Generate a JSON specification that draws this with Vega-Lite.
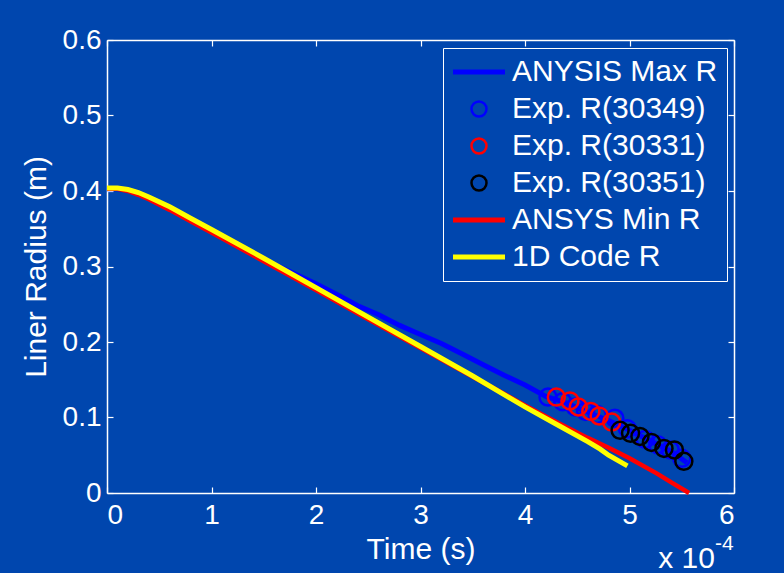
{
  "$schema": "https://vega.github.io/schema/vega-lite/v6.json",
  "width": 627,
  "height": 453,
  "autosize": "none",
  "padding": {"left": 107, "top": 40, "right": 50, "bottom": 80},
  "background": "#0046ae",
  "config": {
    "view": {"stroke": null},
    "font": "Liberation Sans",
    "axis": {
      "grid": false,
      "domainColor": "white",
      "domainWidth": 1.5,
      "tickColor": "white",
      "tickWidth": 1.2,
      "tickSize": -6,
      "labelColor": "white",
      "labelFont": "Liberation Sans",
      "labelFontSize": 28,
      "titleColor": "white",
      "titleFont": "Liberation Sans",
      "titleFontSize": 30,
      "titleFontWeight": "normal"
    }
  },
  "datasets": {
    "lines": [
      {"series": "ANYSIS Max R", "t": 0, "r": 0.403},
      {"series": "ANYSIS Max R", "t": 0.1, "r": 0.403},
      {"series": "ANYSIS Max R", "t": 0.2, "r": 0.401},
      {"series": "ANYSIS Max R", "t": 0.3, "r": 0.397},
      {"series": "ANYSIS Max R", "t": 0.4, "r": 0.391},
      {"series": "ANYSIS Max R", "t": 0.6, "r": 0.378},
      {"series": "ANYSIS Max R", "t": 0.8, "r": 0.363},
      {"series": "ANYSIS Max R", "t": 1.0, "r": 0.348},
      {"series": "ANYSIS Max R", "t": 1.2, "r": 0.333},
      {"series": "ANYSIS Max R", "t": 1.4, "r": 0.318},
      {"series": "ANYSIS Max R", "t": 1.6, "r": 0.303},
      {"series": "ANYSIS Max R", "t": 1.8, "r": 0.290},
      {"series": "ANYSIS Max R", "t": 2.0, "r": 0.277},
      {"series": "ANYSIS Max R", "t": 2.2, "r": 0.263},
      {"series": "ANYSIS Max R", "t": 2.4, "r": 0.248},
      {"series": "ANYSIS Max R", "t": 2.6, "r": 0.236},
      {"series": "ANYSIS Max R", "t": 2.8, "r": 0.222},
      {"series": "ANYSIS Max R", "t": 3.0, "r": 0.210},
      {"series": "ANYSIS Max R", "t": 3.2, "r": 0.198},
      {"series": "ANYSIS Max R", "t": 3.4, "r": 0.184},
      {"series": "ANYSIS Max R", "t": 3.6, "r": 0.170},
      {"series": "ANYSIS Max R", "t": 3.8, "r": 0.156},
      {"series": "ANYSIS Max R", "t": 4.0, "r": 0.143},
      {"series": "ANYSIS Max R", "t": 4.2, "r": 0.128},
      {"series": "ANYSIS Max R", "t": 4.4, "r": 0.119},
      {"series": "ANYSIS Max R", "t": 4.6, "r": 0.107},
      {"series": "ANYSIS Max R", "t": 4.8, "r": 0.096},
      {"series": "ANYSIS Max R", "t": 5.0, "r": 0.083},
      {"series": "ANYSIS Max R", "t": 5.2, "r": 0.069},
      {"series": "ANYSIS Max R", "t": 5.4, "r": 0.055},
      {"series": "ANYSIS Max R", "t": 5.55, "r": 0.040},
      {"series": "ANSYS Min R", "t": 0, "r": 0.403},
      {"series": "ANSYS Min R", "t": 0.1, "r": 0.403},
      {"series": "ANSYS Min R", "t": 0.2, "r": 0.400},
      {"series": "ANSYS Min R", "t": 0.3, "r": 0.395},
      {"series": "ANSYS Min R", "t": 0.4, "r": 0.389},
      {"series": "ANSYS Min R", "t": 0.6, "r": 0.375},
      {"series": "ANSYS Min R", "t": 0.8, "r": 0.360},
      {"series": "ANSYS Min R", "t": 1.0, "r": 0.345},
      {"series": "ANSYS Min R", "t": 1.5, "r": 0.307},
      {"series": "ANSYS Min R", "t": 2.0, "r": 0.269},
      {"series": "ANSYS Min R", "t": 2.5, "r": 0.230},
      {"series": "ANSYS Min R", "t": 3.0, "r": 0.192},
      {"series": "ANSYS Min R", "t": 3.5, "r": 0.154},
      {"series": "ANSYS Min R", "t": 4.0, "r": 0.116},
      {"series": "ANSYS Min R", "t": 4.3, "r": 0.094},
      {"series": "ANSYS Min R", "t": 4.6, "r": 0.073},
      {"series": "ANSYS Min R", "t": 4.8, "r": 0.060},
      {"series": "ANSYS Min R", "t": 5.0, "r": 0.046},
      {"series": "ANSYS Min R", "t": 5.26, "r": 0.026},
      {"series": "ANSYS Min R", "t": 5.4, "r": 0.014},
      {"series": "ANSYS Min R", "t": 5.57, "r": 0.0},
      {"series": "1D Code R", "t": 0, "r": 0.404},
      {"series": "1D Code R", "t": 0.1, "r": 0.404},
      {"series": "1D Code R", "t": 0.2, "r": 0.402},
      {"series": "1D Code R", "t": 0.3, "r": 0.398},
      {"series": "1D Code R", "t": 0.4, "r": 0.392},
      {"series": "1D Code R", "t": 0.6, "r": 0.379},
      {"series": "1D Code R", "t": 0.8, "r": 0.364},
      {"series": "1D Code R", "t": 1.0, "r": 0.349},
      {"series": "1D Code R", "t": 1.5, "r": 0.311},
      {"series": "1D Code R", "t": 2.0, "r": 0.272},
      {"series": "1D Code R", "t": 2.5, "r": 0.233},
      {"series": "1D Code R", "t": 3.0, "r": 0.194},
      {"series": "1D Code R", "t": 3.5, "r": 0.155},
      {"series": "1D Code R", "t": 4.0, "r": 0.114},
      {"series": "1D Code R", "t": 4.3, "r": 0.091},
      {"series": "1D Code R", "t": 4.6, "r": 0.068},
      {"series": "1D Code R", "t": 4.72, "r": 0.058},
      {"series": "1D Code R", "t": 4.8, "r": 0.050},
      {"series": "1D Code R", "t": 4.98, "r": 0.036}
    ],
    "exp": [
      {"series": "Exp. R(30349)", "t": 4.22, "r": 0.127},
      {"series": "Exp. R(30349)", "t": 4.36, "r": 0.121},
      {"series": "Exp. R(30349)", "t": 4.48, "r": 0.114},
      {"series": "Exp. R(30349)", "t": 4.58, "r": 0.108},
      {"series": "Exp. R(30349)", "t": 4.69, "r": 0.104},
      {"series": "Exp. R(30349)", "t": 4.86, "r": 0.099},
      {"series": "Exp. R(30349)", "t": 4.98, "r": 0.085},
      {"series": "Exp. R(30349)", "t": 5.15, "r": 0.071},
      {"series": "Exp. R(30349)", "t": 5.27, "r": 0.064},
      {"series": "Exp. R(30349)", "t": 5.39, "r": 0.057},
      {"series": "Exp. R(30349)", "t": 5.5, "r": 0.046},
      {"series": "Exp. R(30331)", "t": 4.30, "r": 0.127},
      {"series": "Exp. R(30331)", "t": 4.43, "r": 0.122},
      {"series": "Exp. R(30331)", "t": 4.51, "r": 0.114},
      {"series": "Exp. R(30331)", "t": 4.63, "r": 0.108},
      {"series": "Exp. R(30331)", "t": 4.71, "r": 0.102},
      {"series": "Exp. R(30331)", "t": 4.83, "r": 0.094},
      {"series": "Exp. R(30351)", "t": 4.91, "r": 0.083},
      {"series": "Exp. R(30351)", "t": 5.01, "r": 0.079},
      {"series": "Exp. R(30351)", "t": 5.10, "r": 0.075},
      {"series": "Exp. R(30351)", "t": 5.21, "r": 0.067},
      {"series": "Exp. R(30351)", "t": 5.33, "r": 0.059},
      {"series": "Exp. R(30351)", "t": 5.43, "r": 0.057},
      {"series": "Exp. R(30351)", "t": 5.52, "r": 0.042}
    ],
    "notes": [
      {"t": 6, "r": 0, "main": "x 10", "sup": "-4"}
    ]
  },
  "layer": [
    {
      "data": {"name": "lines"},
      "transform": [{"filter": "datum.series === 'ANYSIS Max R'"}],
      "mark": {"type": "line", "strokeWidth": 5},
      "encoding": {
        "x": {
          "field": "t", "type": "quantitative",
          "scale": {"domain": [0, 6], "nice": false, "zero": false},
          "axis": {"values": [0, 1, 2, 3, 4, 5, 6], "title": "Time (s)", "labelPadding": 14, "titleY": 65, "titleBaseline": "alphabetic"}
        },
        "y": {
          "field": "r", "type": "quantitative",
          "scale": {"domain": [0, 0.6], "nice": false},
          "axis": {"values": [0, 0.1, 0.2, 0.3, 0.4, 0.5, 0.6], "title": "Liner Radius (m)", "labelPadding": 12,
                   "labelExpr": "datum.value == 0 ? '0' : format(datum.value, '.1f')",
                   "titleX": -62, "titleBaseline": "alphabetic"}
        },
        "color": {
          "field": "series", "type": "nominal",
          "scale": {
            "domain": ["ANYSIS Max R", "Exp. R(30349)", "Exp. R(30331)", "Exp. R(30351)", "ANSYS Min R", "1D Code R"],
            "range": ["#0000ff", "#0000ff", "#ff0000", "#000000", "#ff0000", "#ffff00"]
          },
          "legend": {
            "title": null,
            "orient": "none",
            "legendX": 336,
            "legendY": 8,
            "padding": 9,
            "strokeColor": "white",
            "fillColor": "#0046ae",
            "labelColor": "white",
            "labelFont": "Liberation Sans",
            "labelFontSize": 30,
            "labelLimit": 400,
            "symbolSize": 225,
            "symbolOffset": 12,
            "labelOffset": 18,
            "rowPadding": 7,
            "encode": {
              "symbols": {
                "update": {
                  "shape": {"signal": "indexof(['ANYSIS Max R','ANSYS Min R','1D Code R'], datum.value) >= 0 ? 'stroke' : 'circle'"},
                  "size": {"signal": "indexof(['ANYSIS Max R','ANSYS Min R','1D Code R'], datum.value) >= 0 ? 2704 : 225"},
                  "strokeWidth": {"signal": "indexof(['ANYSIS Max R','ANSYS Min R','1D Code R'], datum.value) >= 0 ? 5 : 2.5"},
                  "fill": {"value": "transparent"},
                  "opacity": {"value": 1}
                }
              }
            }
          }
        }
      }
    },
    {
      "data": {"name": "exp"},
      "mark": {"type": "point", "filled": false, "size": 289, "strokeWidth": 2.5, "opacity": 1},
      "encoding": {
        "x": {"field": "t", "type": "quantitative", "axis": null},
        "y": {"field": "r", "type": "quantitative", "axis": null},
        "color": {"field": "series", "type": "nominal"}
      }
    },
    {
      "data": {"name": "lines"},
      "transform": [{"filter": "datum.series === 'ANSYS Min R'"}],
      "mark": {"type": "line", "strokeWidth": 4.5},
      "encoding": {
        "x": {"field": "t", "type": "quantitative", "axis": null},
        "y": {"field": "r", "type": "quantitative", "axis": null},
        "color": {"field": "series", "type": "nominal"}
      }
    },
    {
      "data": {"name": "lines"},
      "transform": [{"filter": "datum.series === '1D Code R'"}],
      "mark": {"type": "line", "strokeWidth": 5},
      "encoding": {
        "x": {"field": "t", "type": "quantitative", "axis": null},
        "y": {"field": "r", "type": "quantitative", "axis": null},
        "color": {"field": "series", "type": "nominal"}
      }
    },
    {
      "data": {"name": "lines"},
      "transform": [{"filter": "datum.series === 'ANYSIS Max R'"}],
      "mark": {"type": "line", "opacity": 0},
      "encoding": {
        "x": {"field": "t", "type": "quantitative",
              "axis": {"orient": "top", "values": [0, 1, 2, 3, 4, 5, 6], "labels": false, "title": null}},
        "y": {"field": "r", "type": "quantitative",
              "axis": {"orient": "right", "values": [0, 0.1, 0.2, 0.3, 0.4, 0.5, 0.6], "labels": false, "title": null}}
      }
    },
    {
      "data": {"name": "notes"},
      "mark": {"type": "text", "color": "white", "font": "Liberation Sans", "fontSize": 30, "align": "right", "baseline": "alphabetic", "dx": -19, "dy": 75},
      "encoding": {
        "x": {"field": "t", "type": "quantitative", "axis": null},
        "y": {"field": "r", "type": "quantitative", "axis": null},
        "text": {"field": "main"}
      }
    },
    {
      "data": {"name": "notes"},
      "mark": {"type": "text", "color": "white", "font": "Liberation Sans", "fontSize": 21, "align": "left", "baseline": "alphabetic", "dx": -19, "dy": 57},
      "encoding": {
        "x": {"field": "t", "type": "quantitative", "axis": null},
        "y": {"field": "r", "type": "quantitative", "axis": null},
        "text": {"field": "sup"}
      }
    }
  ],
  "resolve": {"axis": {"x": "independent", "y": "independent"}}
}
